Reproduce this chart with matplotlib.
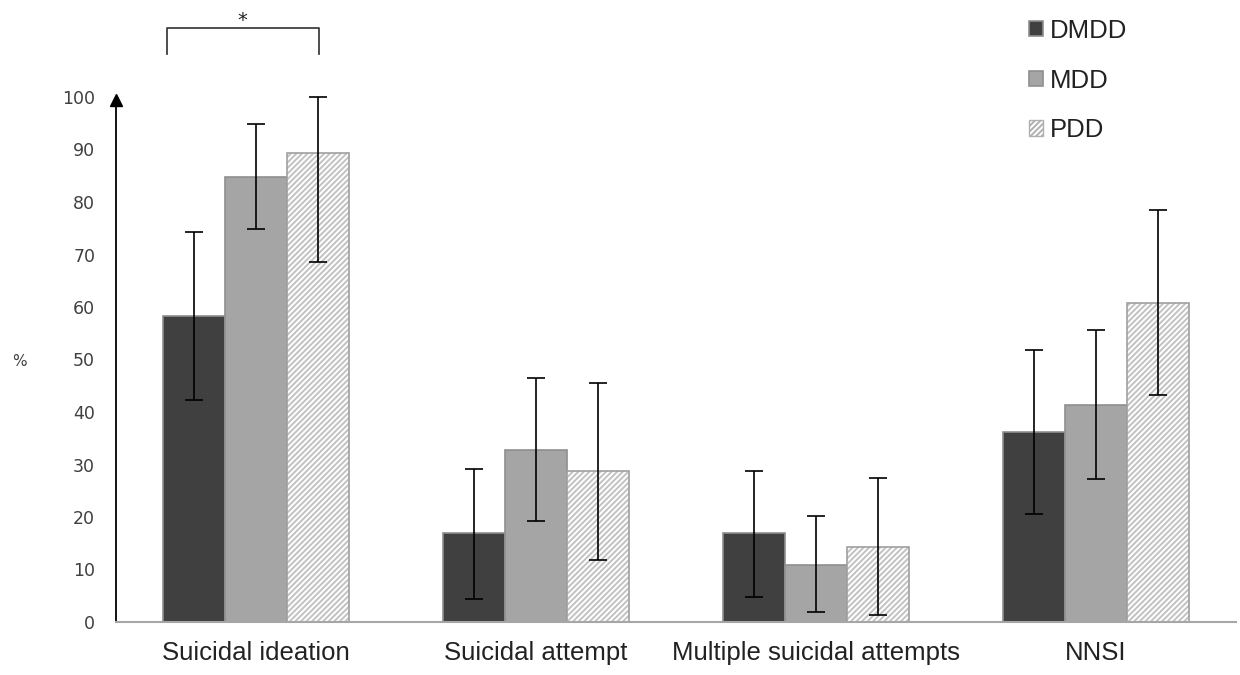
import numpy as np
import matplotlib.pyplot as plt

# данные: проценты по группам и границы доверительных интервалов
categories = ['Suicidal ideation', 'Suicidal attempt', 'Multiple suicidal attempts', 'NNSI']
groups = ['DMDD', 'MDD', 'PDD']

dmdd = [58.3, 17.0, 17.0, 36.1]
mdd = [84.8, 32.7, 10.9, 41.3]
pdd = [89.4, 28.8, 14.3, 60.8]

dmdd_low = [42.2, 4.4, 4.8, 20.5]
dmdd_high = [74.2, 29.1, 28.8, 51.8]
mdd_low = [74.9, 19.2, 1.9, 27.2]
mdd_high = [94.8, 46.4, 20.1, 55.7]
pdd_low = [68.5, 11.8, 1.3, 43.2]
pdd_high = [100.0, 45.5, 27.5, 78.4]

yticks = [0, 10, 20, 30, 40, 50, 60, 70, 80, 90, 100]

plt.rcParams['hatch.linewidth'] = 1.4

fig = plt.figure(figsize=(12.4, 6.75), dpi=100)
ax = fig.add_axes([116 / 1240, 53 / 675, 1120 / 1240, 619.5 / 675])

x = np.arange(len(categories))
w = 0.2214
edge = '#8f8f8f'

values = [dmdd, mdd, pdd]
lows = [dmdd_low, mdd_low, pdd_low]
highs = [dmdd_high, mdd_high, pdd_high]

handles = []
for i, (vals, lo, hi) in enumerate(zip(values, lows, highs)):
    pos = x + (i - 1) * w
    vals = np.array(vals)
    yerr = [vals - np.array(lo), np.array(hi) - vals]
    if i == 0:
        b = ax.bar(pos, vals, w, color='#404040', edgecolor=edge, linewidth=1.2, label=groups[i])
    elif i == 1:
        b = ax.bar(pos, vals, w, color='#a5a5a5', edgecolor=edge, linewidth=1.2, label=groups[i])
    else:
        # штриховка отдельно, контур отдельно
        ax.bar(pos, vals, w, color='white', edgecolor='#c2c2c2', hatch='//////', linewidth=0)
        ax.bar(pos, vals, w, fill=False, edgecolor='#a0a0a0', linewidth=1.2)
        b = ax.bar([np.nan], [np.nan], w, color='white', edgecolor='#b0b0b0', hatch='//////',
                   linewidth=1, label=groups[i])
    handles.append(b)
    ax.errorbar(pos, vals, yerr=yerr, fmt='none', ecolor='black', elinewidth=1.2,
                capsize=6.5, capthick=1.2, zorder=5)

ax.set_xlim(-0.5, 3.5)
ax.set_ylim(0, 118)
ax.set_yticks(yticks)
ax.set_xticks(x)
ax.set_xticklabels(categories, family='Liberation Sans', fontsize=18.5, color='#222222')
ax.tick_params(axis='y', length=0, pad=15, labelsize=12.5, labelcolor='#404040')
ax.tick_params(axis='x', length=0, pad=14)

for s in ['top', 'right']:
    ax.spines[s].set_visible(False)
ax.spines['left'].set_bounds(0, 99)
ax.spines['left'].set_linewidth(1.3)
ax.spines['bottom'].set_color('#a6a6a6')
ax.spines['bottom'].set_linewidth(1.5)
ax.plot([-0.5], [99.5], marker='^', color='black', markersize=9, clip_on=False, zorder=6)

ax.set_ylabel('%', rotation=0, fontsize=11, color='#404040', va='center', ha='center')
ax.yaxis.set_label_coords(-0.086, 0.42)

# скобка значимости
ax.plot([-0.318, -0.318, 0.225, 0.225], [108.2, 113.1, 113.1, 108.2], color='#404040',
        linewidth=1.3, clip_on=False)
ax.text(-0.05, 114.6, '*', ha='center', va='center', fontsize=14, color='#222222')

ax.legend(handles=handles, labels=groups, loc='upper left', frameon=False,
          bbox_to_anchor=(1016 / 1240, 1 - 6 / 675), bbox_transform=fig.transFigure,
          prop={'family': 'Liberation Sans', 'size': 18.5}, labelcolor='#222222',
          handlelength=0.55, handleheight=0.55, handletextpad=0.25, labelspacing=1.0,
          borderpad=0)

fig.savefig('out.png', dpi=100)
